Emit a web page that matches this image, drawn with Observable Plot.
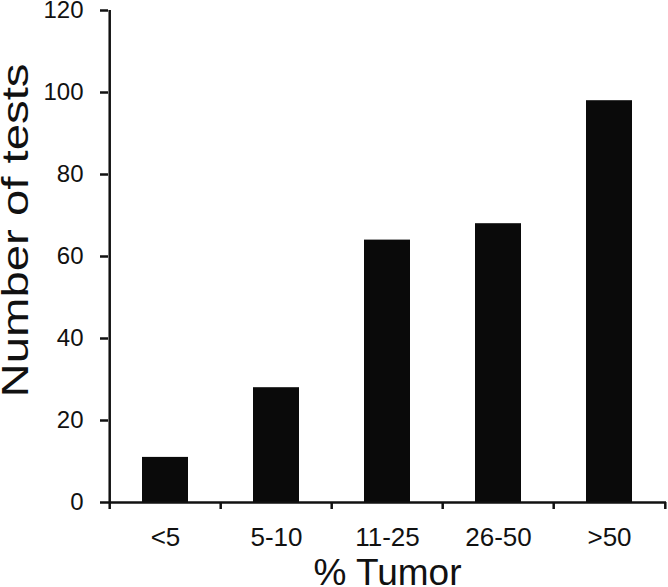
<!DOCTYPE html>
<html>
<head>
<meta charset="utf-8">
<script src="https://cdn.jsdelivr.net/npm/d3@7"></script>
<script src="https://cdn.jsdelivr.net/npm/@observablehq/plot@0.6"></script>
<style>
  html, body { margin: 0; padding: 0; background: #fff; }
  #chart svg { display: block; }
</style>
</head>
<body>
<div id="chart"></div>
<script>
const categories = ["<5", "5-10", "11-25", "26-50", ">50"];
const counts = [11, 28, 64, 68, 98];
const yTicks = [0, 20, 40, 60, 80, 100, 120];
const xLabel = "% Tumor";
const yLabel = "Number of tests";

const data = categories.map((c, i) => ({category: c, count: counts[i]}));

const width = 668, height = 587;
const marginLeft = 108, marginRight = 2, marginTop = 10, marginBottom = 85;
const pad = 0.59;
const step = (width - marginLeft - marginRight) / categories.length;
const ink = "#111111";
const font = "'Liberation Sans', Arial, Helvetica, sans-serif";

const chart = Plot.plot({
  width, height, marginLeft, marginRight, marginTop, marginBottom,
  style: {fontFamily: font, color: ink, background: "#fff", overflow: "visible"},
  x: {domain: categories, paddingInner: pad, paddingOuter: pad / 2, label: null},
  y: {domain: [0, 120], label: null},
  marks: [
    Plot.barY(data, {x: "category", y: "count", fill: "#0a0a0a"}),
    Plot.ruleY([0], {stroke: ink, strokeWidth: 2.5}),
    Plot.ruleX([categories[0]], {dx: -step / 2, stroke: ink, strokeWidth: 2.5}),
    Plot.axisY(yTicks, {tickSize: 8, tickPadding: 17, strokeWidth: 2.5, fontSize: 24, label: null, stroke: ink, fill: ink}),
    Plot.axisX(categories, {tickSize: 0, tickPadding: 25, fontSize: 26, label: null, fill: ink}),
    Plot.axisX(categories, {tickSize: 7, text: null, dx: -step / 2, strokeWidth: 2.5, stroke: ink, label: null}),
    Plot.axisX([categories[categories.length - 1]], {tickSize: 7, text: null, dx: step / 2, strokeWidth: 2.5, stroke: ink, label: null}),
    Plot.text([xLabel], {frameAnchor: "bottom", textAnchor: "middle", dy: 82, lineAnchor: "bottom", fontSize: 37, fill: ink}),
    Plot.text([yLabel], {frameAnchor: "left", textAnchor: "middle", rotate: -90, dx: -81, dy: -26, lineAnchor: "bottom", fontSize: 37, fill: ink})
  ]
});
// the reference's y-axis title is drawn horizontally stretched along its baseline
d3.select(chart).selectAll("text").filter(function() { return this.textContent === yLabel; })
  .attr("textLength", 334).attr("lengthAdjust", "spacingAndGlyphs");
document.getElementById("chart").appendChild(chart);
</script>
</body>
</html>
